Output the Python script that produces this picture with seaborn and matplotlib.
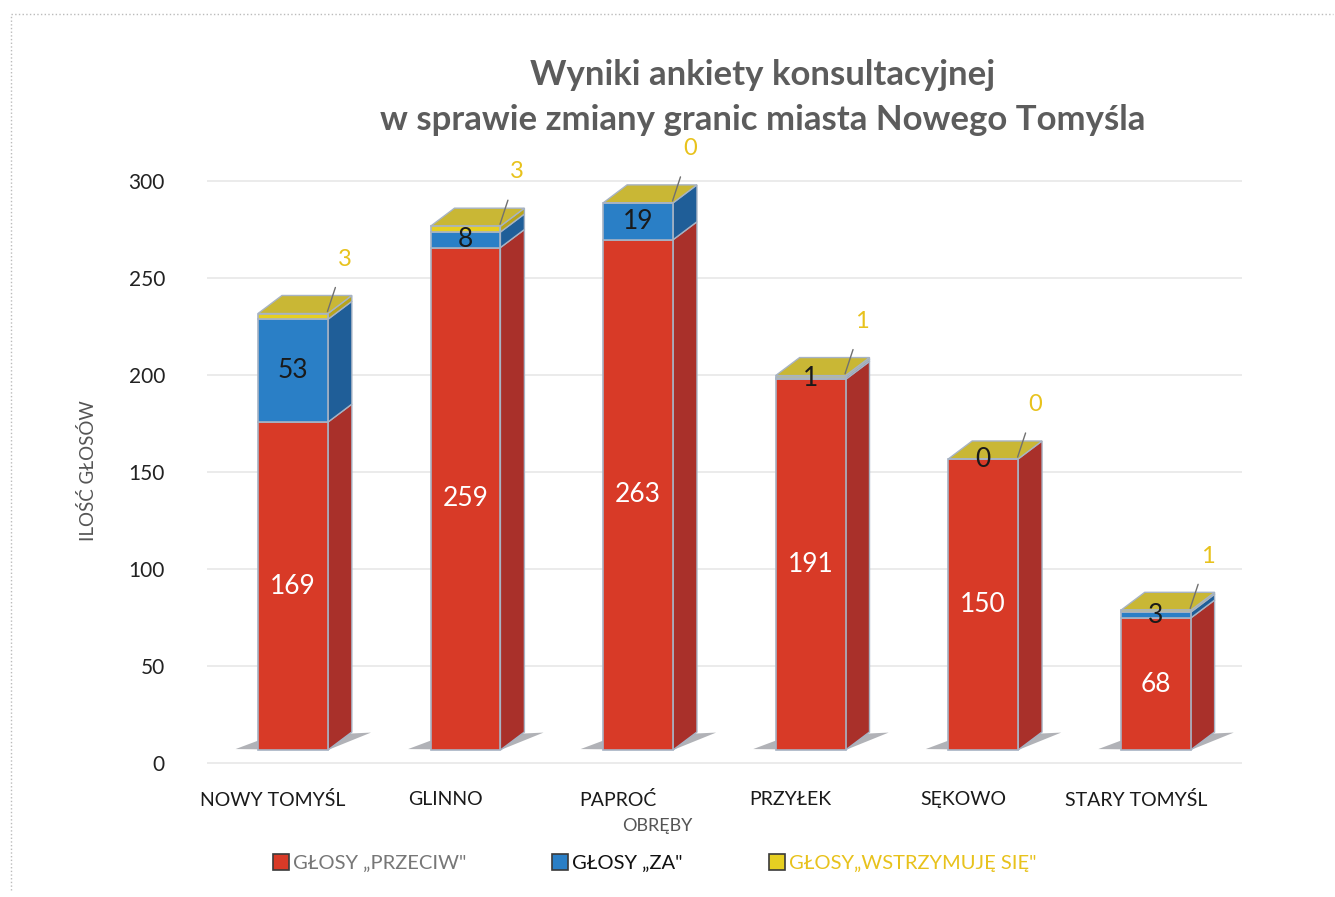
import pandas as pd
import seaborn as sns
import matplotlib.pyplot as plt
from matplotlib.patches import Polygon
from matplotlib.lines import Line2D

# Survey results per district (obręb)
obreby = ["NOWY TOMYŚL", "GLINNO", "PAPROĆ", "PRZYŁEK", "SĘKOWO", "STARY TOMYŚL"]
przeciw = [169, 259, 263, 191, 150, 68]
za = [53, 8, 19, 1, 0, 3]
wstrzymuje = [3, 3, 0, 1, 0, 1]

series_names = ['GŁOSY „PRZECIW"', 'GŁOSY „ZA"', 'GŁOSY„WSTRZYMUJĘ SIĘ"']
y_ticks = [0, 50, 100, 150, 200, 250, 300]

# front / side colours for each series
front = ["#d83a27", "#2a7fc6", "#e6cf22"]
side = ["#a9302a", "#1f5e98", "#b8a41c"]
top_col = "#c9b735"
edge = "#a7b3c4"
label_yellow = "#e8c21c"

sns.set_theme(style="white")
plt.rcParams["font.family"] = ["Lato", "DejaVu Sans"]

fig = plt.figure(figsize=(13.35, 8.97), dpi=100)
ax = fig.add_axes([0.1548, 0.1487, 0.7755, 0.664])

df = pd.DataFrame({"Obręb": obreby, "przeciw": przeciw, "za": za, "wstrzymuje": wstrzymuje})
bottoms = [0] * len(obreby)
for k, col in enumerate(["przeciw", "za", "wstrzymuje"]):
    sns.barplot(data=df, x="Obręb", y=col, color=front[k], width=0.405,
                bottom=bottoms, edgecolor=edge, linewidth=1.2, saturation=1,
                ax=ax, zorder=3)
    bottoms = [b + v for b, v in zip(bottoms, df[col])]
totals = bottoms

# fake 3D: side faces, top face and floor shadow derived from the bar patches
dx, dy = 0.139, 9.3
for k, cont in enumerate(ax.containers):
    for p in cont.patches:
        x0, w, y0, h = p.get_x(), p.get_width(), p.get_y(), p.get_height()
        x1 = x0 + w
        if k == 0:
            ax.add_patch(Polygon([(x0 - 0.13, 0.5), (x1, 0), (x1 + 0.25, 9),
                                  (x0 + 0.05, 6.5)], closed=True,
                                 facecolor="#7d8087", alpha=0.6, lw=0, zorder=1))
        if h > 0:
            ax.add_patch(Polygon([(x1, y0), (x1 + dx, y0 + dy), (x1 + dx, y0 + h + dy),
                                  (x1, y0 + h)], closed=True, facecolor=side[k],
                                 edgecolor=edge, lw=1.0, zorder=2.5))
for i, t in enumerate(totals):
    p = ax.containers[0].patches[i]
    x0, x1 = p.get_x(), p.get_x() + p.get_width()
    ax.add_patch(Polygon([(x0, t), (x0 + dx, t + dy), (x1 + dx, t + dy), (x1, t)],
                         closed=True, facecolor=top_col, edgecolor=edge, lw=1.0,
                         zorder=2.6))

# data labels
for i in range(len(obreby)):
    ax.text(i, przeciw[i] / 2, str(przeciw[i]), color="white", fontsize=19,
            ha="center", va="center", zorder=5)
    ax.text(i, przeciw[i] + za[i] / 2, str(za[i]), color="#1a1a1a", fontsize=19,
            ha="center", va="center", zorder=5)
    ax.annotate(str(wstrzymuje[i]), xy=(i + 0.2, totals[i] + 1),
                xytext=(i + 0.3, totals[i] + 28), color=label_yellow, fontsize=17,
                ha="center", va="center", zorder=5,
                arrowprops=dict(arrowstyle="-", color="#707070", lw=1,
                                shrinkA=11, shrinkB=0))

# tick labels and gridlines sit on the back wall, a bit below the front scale
ax.set_xlim(-0.5, 5.5)
ax.set_ylim(-7, 300)
ax.set_yticks([v - 6.7 for v in y_ticks])
ax.set_yticklabels([str(v) for v in y_ticks], fontsize=15, color="#222222")
ax.yaxis.grid(True, color="#e8e8e8", lw=1.2)
ax.set_axisbelow(True)

ax.set_xticks([i - 0.115 for i in range(len(obreby))])
ax.set_xticklabels(obreby, fontsize=14, color="#1a1a1a")
ax.tick_params(axis="y", length=0, pad=30)
ax.tick_params(axis="x", length=0, pad=20)
ax.set_xlabel("")
ax.set_ylabel("")
sns.despine(ax=ax, left=True, bottom=True)

fig.text(0.066, 0.475, "ILOŚĆ GŁOSÓW", rotation=90, ha="center", va="center",
         fontsize=13.5, color="#555555")
fig.text(0.492, 0.079, "OBRĘBY", ha="center", va="center", fontsize=13,
         color="#555555")
fig.text(0.571, 0.916, "Wyniki ankiety konsultacyjnej", ha="center", va="center",
         fontsize=25, fontweight="bold", color="#5c5c5c")
fig.text(0.571, 0.866, "w sprawie zmiany granic miasta Nowego Tomyśla", ha="center",
         va="center", fontsize=25, fontweight="bold", color="#5c5c5c")

handles = [Line2D([], [], marker="s", ls="", markersize=11, markerfacecolor=front[k],
                  markeredgecolor="#3a3a3a", markeredgewidth=1.2) for k in range(3)]
leg = fig.legend(handles, series_names, loc="center", ncol=3,
                 bbox_to_anchor=(0.49, 0.037), frameon=False, fontsize=14.5,
                 handletextpad=0.15, columnspacing=4.2, handlelength=0.9)
for txt, c in zip(leg.get_texts(), ["#777777", "#111111", label_yellow]):
    txt.set_color(c)

# dotted page frame
fig.add_artist(Line2D([11 / 1335, 11 / 1335], [1 - 890 / 897, 1 - 14 / 897],
                      transform=fig.transFigure, color="#bbbbbb", lw=1, ls=":"))
fig.add_artist(Line2D([11 / 1335, 1333 / 1335], [1 - 14 / 897, 1 - 14 / 897],
                      transform=fig.transFigure, color="#bbbbbb", lw=1, ls=":"))

fig.savefig("out.png", dpi=100)
